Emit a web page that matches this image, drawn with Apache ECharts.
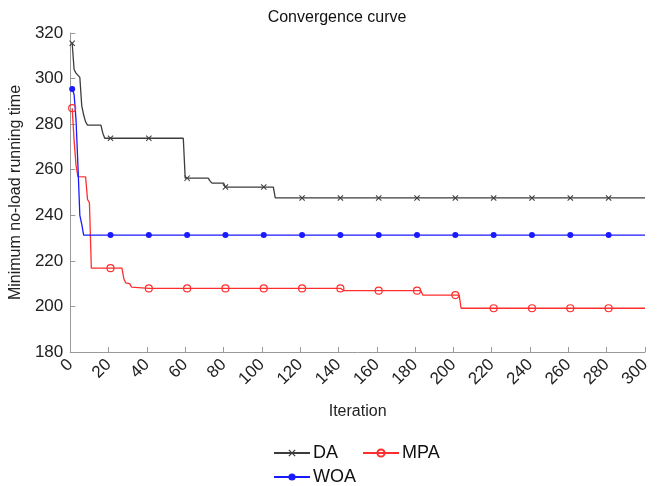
<!DOCTYPE html>
<html>
<head>
<meta charset="utf-8">
<script src="https://cdn.jsdelivr.net/npm/echarts@6/dist/echarts.min.js"></script>
<style>
html,body{margin:0;padding:0;background:#fff;}
#chart{width:657px;height:486px;}
</style>
</head>
<body>
<div id="chart"></div>
<script>
// ---- data ----
const titleText = 'Convergence curve';
const xName = 'Iteration';
const yName = 'Minimum no-load running time';
const seriesNames = ['DA', 'MPA', 'WOA'];
const markerIter = [1, 21, 41, 61, 81, 101, 121, 141, 161, 181, 201, 221, 241, 261, 281];

const daIter = [1, 2, 3, 4, 5, 6, 7, 8, 9, 16, 17, 18, 21, 41, 59, 60, 61, 72, 73, 74, 80, 81, 101, 106, 107, 121, 141, 161, 181, 201, 221, 241, 261, 281, 300];
const daVal  = [315.5, 304, 302.4, 302.2, 300.5, 288, 284, 281, 279.6, 279.6, 276, 273.8, 273.8, 273.8, 273.8, 256.3, 256.3, 256.3, 255, 254.1, 254.1, 252.4, 252.4, 252.4, 247.6, 247.6, 247.6, 247.6, 247.6, 247.6, 247.6, 247.6, 247.6, 247.6, 247.6];

const mpaIter = [1, 2, 3, 4, 8, 9, 10, 11, 21, 27, 28, 29, 31, 32, 33, 41, 61, 81, 101, 121, 141, 142, 143, 161, 181, 183, 184, 201, 203, 204, 221, 241, 261, 281, 300];
const mpaVal  = [287, 273, 262, 257, 256.9, 247, 245.5, 216.8, 216.8, 216.8, 212, 210.3, 210, 208.5, 207.9, 207.9, 207.9, 207.9, 207.9, 207.9, 207.9, 207.9, 206.9, 206.9, 206.9, 206.9, 205, 205, 205, 199.2, 199.2, 199.2, 199.2, 199.2, 199.2];

const woaIter = [1, 2, 3, 4, 5, 6, 7, 21, 41, 61, 81, 101, 121, 141, 161, 181, 201, 221, 241, 261, 281, 300];
const woaVal  = [295.4, 293, 282, 262, 240, 236, 231.3, 231.3, 231.3, 231.3, 231.3, 231.3, 231.3, 231.3, 231.3, 231.3, 231.3, 231.3, 231.3, 231.3, 231.3, 231.3];

const xMin = 0, xMax = 300, xStep = 20;
const yMin = 180, yMax = 320, yStep = 20;

// ---- build ----
function build(iters, vals) {
  return iters.map((it, i) => {
    const item = { value: [it, vals[i]] };
    if (markerIter.indexOf(it) < 0) item.symbol = 'none';
    return item;
  });
}

const FONT = 'Liberation Sans';
const xMarker = 'path://M0,1.2L1.2,0L5,3.8L8.8,0L10,1.2L6.2,5L10,8.8L8.8,10L5,6.2L1.2,10L0,8.8L3.8,5Z';

const chart = echarts.init(document.getElementById('chart'), null, { renderer: 'canvas' });
chart.setOption({
  animation: false,
  backgroundColor: '#fff',
  title: {
    text: titleText, left: 332, textAlign: 'center', top: 5,
    textStyle: { fontFamily: FONT, fontSize: 16, fontWeight: 'normal', color: '#111' }
  },
  legend: [
    {
      data: ['DA', 'MPA'], left: 268, top: 439, orient: 'horizontal',
      itemWidth: 36, itemHeight: 9, itemGap: 24,
      textStyle: { fontFamily: FONT, fontSize: 18, color: '#111', padding: [0, 0, 0, -2] }
    },
    {
      data: ['WOA'], left: 268, top: 463, orient: 'horizontal',
      itemWidth: 36, itemHeight: 9,
      textStyle: { fontFamily: FONT, fontSize: 18, color: '#111', padding: [0, 0, 0, -2] }
    }
  ],
  grid: { left: 70, right: 12, top: 33, bottom: 134, containLabel: false },
  xAxis: {
    type: 'value', min: xMin, max: xMax, interval: xStep,
    name: xName, nameLocation: 'middle', nameGap: 52,
    nameTextStyle: { fontFamily: FONT, fontSize: 16, color: '#222' },
    axisLine: { show: true, lineStyle: { color: '#9a9a9a', width: 1 } },
    axisTick: { show: true, inside: true, length: 5, lineStyle: { color: '#9a9a9a' } },
    splitLine: { show: false },
    axisLabel: { rotate: 45, margin: 10, fontFamily: FONT, fontSize: 17, color: '#222' }
  },
  yAxis: {
    type: 'value', min: yMin, max: yMax, interval: yStep,
    name: yName, nameLocation: 'middle', nameGap: 40, nameRotate: 90,
    nameTextStyle: { fontFamily: FONT, fontSize: 16, color: '#222' },
    axisLine: { show: true, lineStyle: { color: '#9a9a9a', width: 1 } },
    axisTick: { show: true, inside: true, length: 5, lineStyle: { color: '#9a9a9a' } },
    splitLine: { show: false },
    axisLabel: { margin: 7, fontFamily: FONT, fontSize: 17, color: '#222' }
  },
  series: [
    {
      name: 'DA', type: 'line', data: build(daIter, daVal),
      symbol: xMarker, symbolSize: 6, showAllSymbol: true,
      lineStyle: { color: '#3c3c3c', width: 1.3 },
      itemStyle: { color: '#3c3c3c' }
    },
    {
      name: 'MPA', type: 'line', data: build(mpaIter, mpaVal),
      symbol: 'circle', symbolSize: 7, showAllSymbol: true,
      lineStyle: { color: '#ff2e2e', width: 1.3 },
      itemStyle: { color: 'rgba(255,255,255,0)', borderColor: '#ff2e2e', borderWidth: 1.2 }
    },
    {
      name: 'WOA', type: 'line', data: build(woaIter, woaVal),
      symbol: 'circle', symbolSize: 6, showAllSymbol: true,
      lineStyle: { color: '#1a1aff', width: 1.3 },
      itemStyle: { color: '#1a1aff' }
    }
  ]
});
</script>
</body>
</html>
